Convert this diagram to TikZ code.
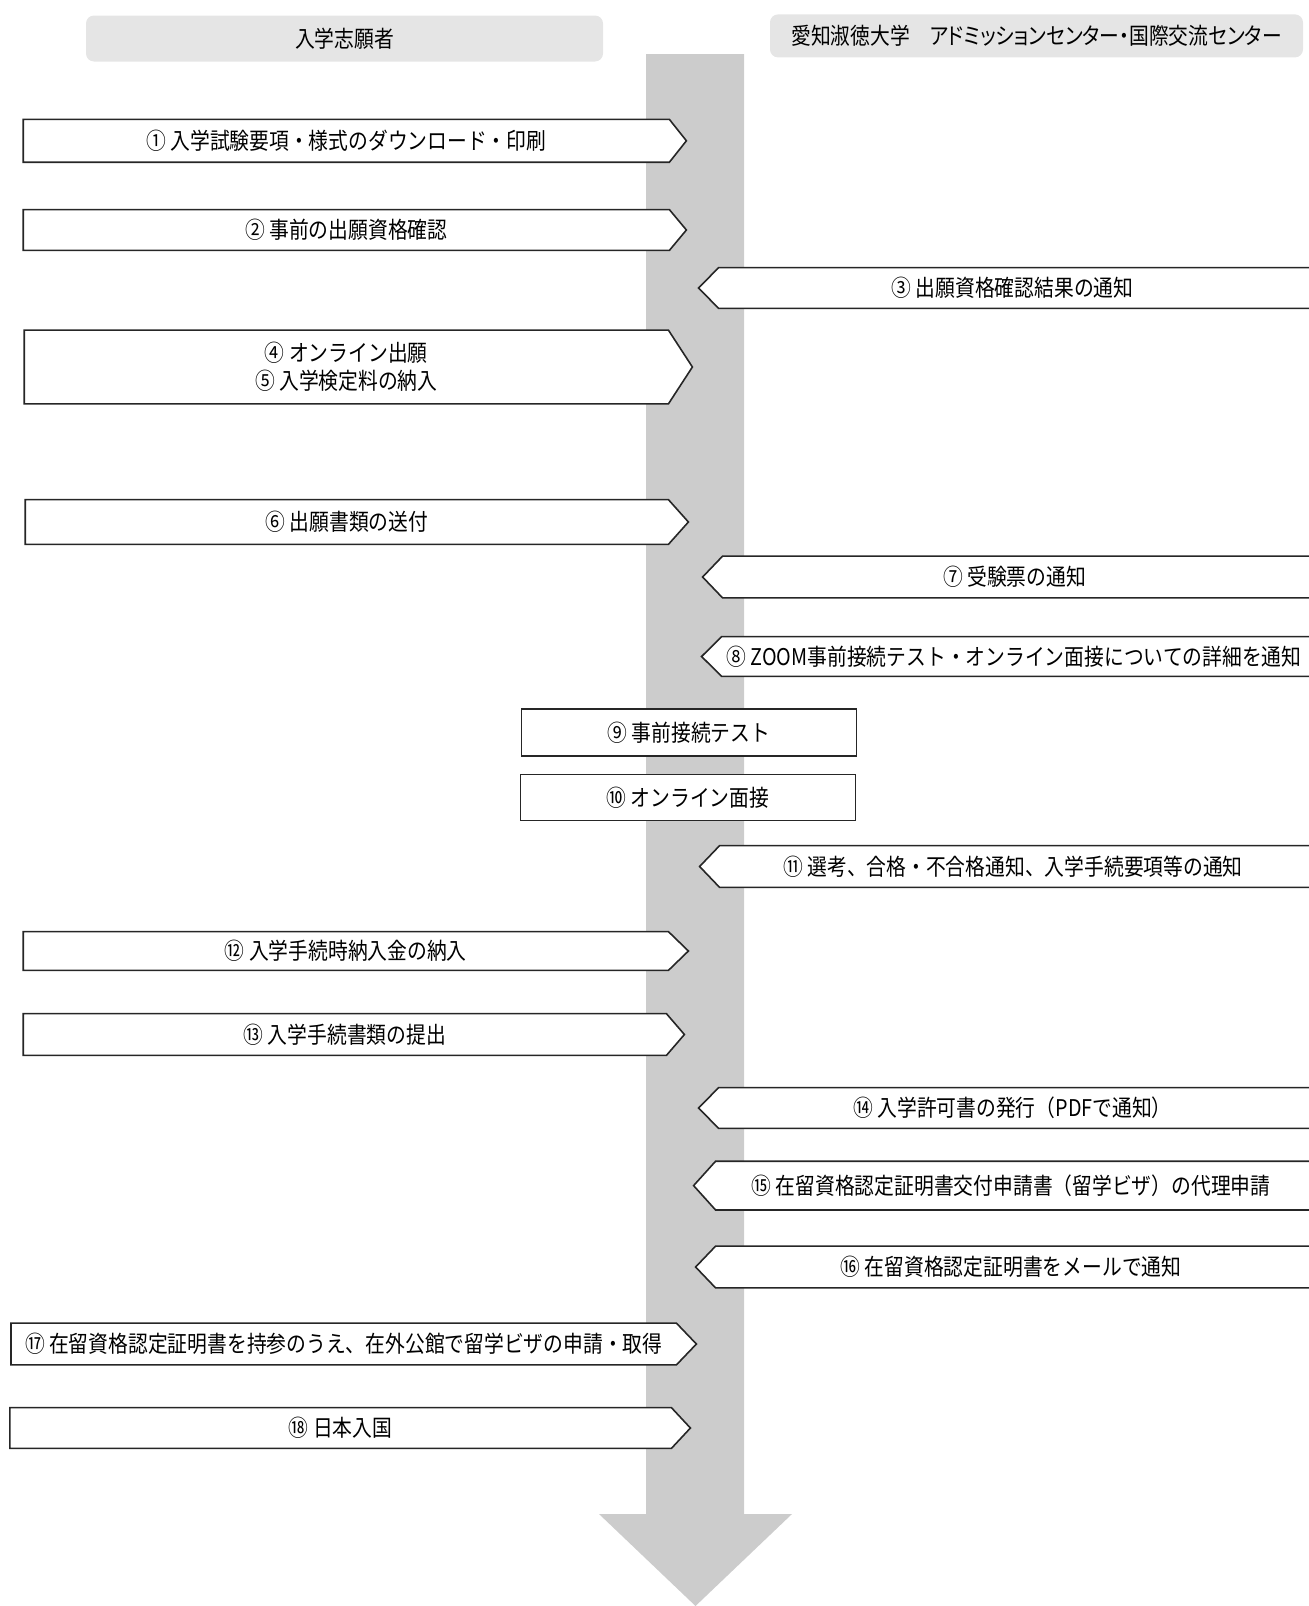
\documentclass[tikz,border=0pt]{standalone}
\usepackage{fontspec}
\setmainfont{Noto Sans CJK JP}[FakeStretch=0.86]
\usetikzlibrary{positioning, calc, backgrounds}

\begin{document}
\begin{tikzpicture}[x=0.5pt, y=-0.5pt, font=\fontsize{11.5}{14}\selectfont,
	lane/.style={rectangle, rounded corners=4pt, fill=black!10, inner sep=0pt},
	stepbox/.style={rectangle, inner sep=0pt, align=center},
	framebox/.style={stepbox, draw=black!85, line width=0.8pt, fill=white},
	outline/.style={draw=black!85, line width=0.8pt, fill=white, line join=miter}]
	\useasboundingbox (0,0) rectangle (1309,1606);
	\clip (0,0) rectangle (1309,1606);

	\node[lane, minimum width=258.5pt, minimum height=23pt] (apl) at (344.5,38.5) {入学志願者};
	\node[lane, minimum width=266.5pt, minimum height=21.5pt] (uni) at (1036.5,35.9) {\addfontfeature{RawFeature=+palt}愛知淑徳大学　アドミッションセンター・国際交流センター};

	\node[stepbox, minimum width=322.7pt, minimum height=21pt] (dl) at (346.3,140.8) {① 入学試験要項・様式のダウンロード・印刷};
	\node[stepbox, minimum width=322.7pt, minimum height=20pt] (pre) at (346.3,230) {② 事前の出願資格確認};
	\node[stepbox, minimum width=293.5pt, minimum height=20pt] (res) at (1012.5,288) {③ 出願資格確認結果の通知};
	\node[stepbox, minimum width=321.7pt, minimum height=36.5pt] (web) at (346.3,367) {④ オンライン出願\\⑤ 入学検定料の納入};
	\node[stepbox, minimum width=321.2pt, minimum height=22pt] (send) at (346.8,522) {⑥ 出願書類の送付};
	\node[stepbox, minimum width=291.5pt, minimum height=20.5pt] (ticket) at (1014.5,577) {⑦ 受験票の通知};
	\node[stepbox, minimum width=292pt, minimum height=19.5pt] (info) at (1014,656.5) {⑧ ZOOM事前接続テスト・オンライン面接についての詳細を通知};
	\node[framebox, minimum width=167.5pt, minimum height=23.5pt] (test) at (688.9,732.4) {⑨ 事前接続テスト};
	\node[framebox, minimum width=167.5pt, minimum height=23pt] (intv) at (687.8,797.4) {⑩ オンライン面接};
	\node[stepbox, minimum width=293pt, minimum height=20.5pt] (pass) at (1013,866.5) {⑪ 選考、合格・不合格通知、入学手続要項等の通知};
	\node[stepbox, minimum width=322.2pt, minimum height=19pt] (fee) at (345.8,951) {⑫ 入学手続時納入金の納入};
	\node[stepbox, minimum width=321.2pt, minimum height=20.5pt] (docs) at (344.8,1034.5) {⑬ 入学手続書類の提出};
	\node[stepbox, minimum width=293.5pt, minimum height=20pt] (permit) at (1012.5,1108) {⑭ 入学許可書の発行（PDFで通知）};
	\node[stepbox, minimum width=295pt, minimum height=24pt] (coe) at (1011,1185.6) {⑮ 在留資格認定証明書交付申請書（留学ビザ）の代理申請};
	\node[stepbox, minimum width=295pt, minimum height=20.5pt] (mail) at (1011,1267) {⑯ 在留資格認定証明書をメールで通知};
	\node[stepbox, minimum width=332.3pt, minimum height=20.5pt] (visa) at (343.7,1344) {⑰ 在留資格認定証明書を持参のうえ、在外公館で留学ビザの申請・取得};
	\node[stepbox, minimum width=330.4pt, minimum height=20pt] (entry) at (340.6,1428) {⑱ 日本入国};

	\begin{scope}[on background layer]
		\fill[black!20] (646,54) -- (744,54) -- (744,1514) -- (792,1514) -- (695.5,1606) -- (599,1514) -- (646,1514) -- cycle;
		\foreach \n/\d in {dl/17, pre/17, web/24, send/20, fee/20, docs/18, visa/20, entry/19}
			\draw[outline] (\n.north west) -- (\n.north east) -- ([xshift=\d*0.5pt]\n.east) -- (\n.south east) -- (\n.south west) -- cycle;
		\foreach \n/\d in {res/20, ticket/20, info/20, pass/20, permit/20, coe/22, mail/20}
			\draw[outline] ([xshift=20pt]\n.north east) -- (\n.north west) -- ([xshift=-\d*0.5pt]\n.west) -- (\n.south west) -- ([xshift=20pt]\n.south east);
	\end{scope}
\end{tikzpicture}
\end{document}
